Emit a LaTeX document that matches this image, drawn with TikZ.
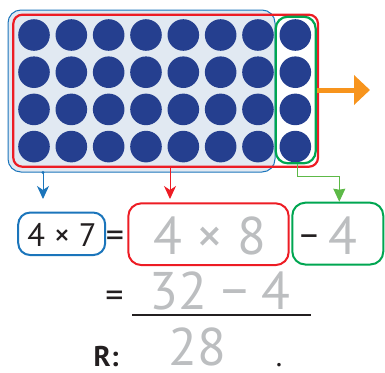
\documentclass[tikz,border=0pt]{standalone}
\usepackage{fontspec}
\setmainfont{PT Sans}
\usetikzlibrary{arrows.meta}
\definecolor{cblue}{HTML}{1B75BB}
\definecolor{cred}{HTML}{ED1C24}
\definecolor{cgreen}{HTML}{00A651}
\definecolor{clgreen}{HTML}{5DB947}
\definecolor{corange}{HTML}{F7941D}
\definecolor{cnavy}{HTML}{253F8F}
\definecolor{cgray}{HTML}{BCBEC0}
\definecolor{cdark}{HTML}{231F20}
\definecolor{cfill}{HTML}{E1E9F2}
\tikzset{
  dot/.style={circle,fill=cnavy,inner sep=0,minimum size=31.6pt},
  frame/.style={draw,inner sep=0,rounded corners=#1},
  frame/.default=12pt,
  link/.style={line width=1pt,-{Stealth[length=13pt,width=12pt,inset=4pt]}},
  graytxt/.style={text=cgray,inner sep=0,anchor=base,font=\fontsize{53}{60}\selectfont},
  darktxt/.style={text=cdark,inner sep=0,anchor=base,font=\fontsize{30}{36}\selectfont},
}
\begin{document}
\begin{tikzpicture}[x=1pt,y=-1pt]
\useasboundingbox (0,0) rectangle (385,372);
% blue background box
\node[frame=13pt,draw=cblue,fill=cfill,line width=1pt,minimum width=267pt,minimum height=162pt] (bluebox) at (141.5,91) {};
% dots
\foreach \i in {0,...,7}{
  \foreach \j in {0,...,3}{
    \node[dot] (d\i\j) at ({34+37.33*\i},{35+37.2*\j}) {};
  }
}
\node[frame=9pt,draw=cred,line width=2.2pt,minimum width=304.7pt,minimum height=152pt] (redbox) at (165.65,90.7) {};
\node[frame=12pt,draw=cgreen,line width=2.2pt,minimum width=40pt,minimum height=146.6pt] (greenbox) at (295.7,90) {};
% orange arrow
\coordinate (otip) at (370,90);
\draw[corange,line width=5pt,-{Triangle[length=16pt,width=29pt]}] (greenbox.east|-otip) -- (otip);
% lower boxes
\node[frame=12pt,draw=cblue,line width=2pt,minimum width=87pt,minimum height=42.5pt] (box7) at (61.7,233.8) {};
\node[frame=13pt,draw=cred,line width=2pt,minimum width=160.4pt,minimum height=61.7pt] (box8) at (208.5,234.2) {};
\node[frame=13pt,draw=cgreen,line width=2pt,minimum width=91pt,minimum height=61.8pt] (box4) at (337.8,233.6) {};
% connectors
\coordinate (bt) at (43,199);
\coordinate (rt) at (170,199);
\coordinate (gt) at (339.3,201.7);
\coordinate (gs) at (297.7,176.7);
\fill[cblue] (bluebox.south-|bt) circle (1.6pt);
\draw[link,cblue] (bluebox.south-|bt) -- (bt);
\draw[link,cred] (redbox.south-|rt) -- (rt);
\draw[link,clgreen,-{Stealth[length=13pt,width=12pt,inset=1pt]}] (greenbox.south-|gs) -- (gs) -| (gt);
% texts
\node[darktxt,font=\fontsize{32.5}{38}\selectfont] (t7) at (62,246.7) {4 × 7};
\node[darktxt,font=\fontsize{36}{40}\selectfont] (eq1) at (115,247) {=};
\node[graytxt] (t8) at (210,254) {4 × 8};
\node[darktxt,font=\fontsize{36}{40}\selectfont] (minus) at (309,246.5) {–};
\node[graytxt] (t4) at (342.5,254) {4};
\node[darktxt,font=\fontsize{36}{40}\selectfont] (eq2) at (114.5,307.4) {=};
\node[graytxt] (t32) at (220,309.5) {32 − 4};
\coordinate (la) at (132,315);
\coordinate (lb) at (310.7,315);
\draw[cdark,line width=1.4pt] (la) -- (lb);
\node[darktxt,anchor=base west,font=\fontsize{28.5}{32}\selectfont\bfseries] (R) at (93.5,366.7) {R:};
\node[graytxt] (t28) at (197.5,365) {28};
\node[darktxt] (per) at (279,366) {.};
\end{tikzpicture}
\end{document}
